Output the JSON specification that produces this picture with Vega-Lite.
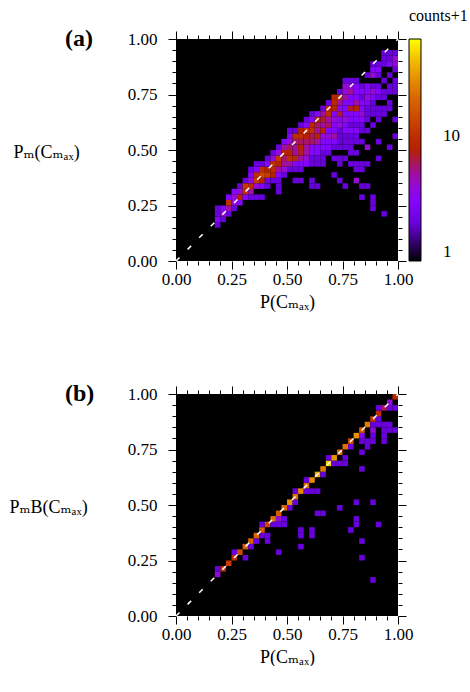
{
"$schema": "https://vega.github.io/schema/vega-lite/v6.json",
"background": "white",
"padding": {"left": 9, "top": 8, "right": 0, "bottom": 0},
"bounds": "flush",
"spacing": 133,
"config": {
  "font": "Liberation Serif, Times New Roman, DejaVu Serif, serif",
  "view": {"fill": "black", "stroke": null},
  "axis": {"domain": false, "grid": false, "labelFont": "Liberation Serif, Times New Roman, DejaVu Serif, serif", "labelFontSize": 17, "labelColor": "black", "tickColor": "black", "tickWidth": 1, "titleFont": "Liberation Serif, Times New Roman, DejaVu Serif, serif", "titleFontSize": 18, "titleFontWeight": "normal", "titleColor": "black"},
  "legend": {"padding": 0, "labelFont": "Liberation Serif, Times New Roman, DejaVu Serif, serif", "labelFontSize": 17, "labelColor": "black", "titleFont": "Liberation Serif, Times New Roman, DejaVu Serif, serif", "titleFontSize": 16, "titleFontWeight": "normal", "titleColor": "black", "gradientStrokeColor": "black", "gradientStrokeWidth": 1},
  "title": {"font": "Liberation Serif, Times New Roman, DejaVu Serif, serif", "fontSize": 24, "fontWeight": "bold", "color": "black"}
},
"vconcat": [
{
  "width": 222, "height": 222,
  "title": {"text": "(a)", "anchor": "start", "frame": "group", "dx": -111, "dy": 21, "offset": 0},
  "layer": [
    {
      "data": {"values": [
{"x":0.175,"x2":0.2,"y":0.15,"y2":0.175,"v":2},{"x":0.175,"x2":0.2,"y":0.175,"y2":0.2,"v":3},{"x":0.175,"x2":0.2,"y":0.2,"y2":0.225,"v":2},{"x":0.175,"x2":0.2,"y":0.225,"y2":0.25,"v":2},
{"x":0.2,"x2":0.225,"y":0.175,"y2":0.2,"v":2},{"x":0.2,"x2":0.225,"y":0.2,"y2":0.225,"v":4},{"x":0.2,"x2":0.225,"y":0.225,"y2":0.25,"v":3},
{"x":0.225,"x2":0.25,"y":0.2,"y2":0.225,"v":2},{"x":0.225,"x2":0.25,"y":0.225,"y2":0.25,"v":5},{"x":0.225,"x2":0.25,"y":0.25,"y2":0.275,"v":10},{"x":0.225,"x2":0.25,"y":0.275,"y2":0.3,"v":3},
{"x":0.25,"x2":0.275,"y":0.225,"y2":0.25,"v":2},{"x":0.25,"x2":0.275,"y":0.25,"y2":0.275,"v":4},{"x":0.25,"x2":0.275,"y":0.275,"y2":0.3,"v":4},{"x":0.25,"x2":0.275,"y":0.3,"y2":0.325,"v":3},
{"x":0.275,"x2":0.3,"y":0.25,"y2":0.275,"v":3},{"x":0.275,"x2":0.3,"y":0.275,"y2":0.3,"v":8},{"x":0.275,"x2":0.3,"y":0.3,"y2":0.325,"v":4},{"x":0.275,"x2":0.3,"y":0.325,"y2":0.35,"v":2},
{"x":0.3,"x2":0.325,"y":0.275,"y2":0.3,"v":3},{"x":0.3,"x2":0.325,"y":0.3,"y2":0.325,"v":10},{"x":0.3,"x2":0.325,"y":0.325,"y2":0.35,"v":12},{"x":0.3,"x2":0.325,"y":0.35,"y2":0.375,"v":2},
{"x":0.325,"x2":0.35,"y":0.275,"y2":0.3,"v":2},{"x":0.325,"x2":0.35,"y":0.3,"y2":0.325,"v":5},{"x":0.325,"x2":0.35,"y":0.325,"y2":0.35,"v":10},{"x":0.325,"x2":0.35,"y":0.35,"y2":0.375,"v":4},{"x":0.325,"x2":0.35,"y":0.375,"y2":0.4,"v":3},{"x":0.325,"x2":0.35,"y":0.4,"y2":0.425,"v":2},
{"x":0.35,"x2":0.375,"y":0.275,"y2":0.3,"v":2},{"x":0.35,"x2":0.375,"y":0.325,"y2":0.35,"v":4},{"x":0.35,"x2":0.375,"y":0.35,"y2":0.375,"v":12},{"x":0.35,"x2":0.375,"y":0.375,"y2":0.4,"v":10},{"x":0.35,"x2":0.375,"y":0.4,"y2":0.425,"v":3},{"x":0.35,"x2":0.375,"y":0.425,"y2":0.45,"v":2},
{"x":0.375,"x2":0.4,"y":0.275,"y2":0.3,"v":2},{"x":0.375,"x2":0.4,"y":0.325,"y2":0.35,"v":3},{"x":0.375,"x2":0.4,"y":0.35,"y2":0.375,"v":8},{"x":0.375,"x2":0.4,"y":0.375,"y2":0.4,"v":14},{"x":0.375,"x2":0.4,"y":0.4,"y2":0.425,"v":10},{"x":0.375,"x2":0.4,"y":0.425,"y2":0.45,"v":2},
{"x":0.4,"x2":0.425,"y":0.325,"y2":0.35,"v":2},{"x":0.4,"x2":0.425,"y":0.35,"y2":0.375,"v":2},{"x":0.4,"x2":0.425,"y":0.375,"y2":0.4,"v":12},{"x":0.4,"x2":0.425,"y":0.4,"y2":0.425,"v":8},{"x":0.4,"x2":0.425,"y":0.425,"y2":0.45,"v":3},{"x":0.4,"x2":0.425,"y":0.45,"y2":0.475,"v":2},
{"x":0.425,"x2":0.45,"y":0.35,"y2":0.375,"v":2},{"x":0.425,"x2":0.45,"y":0.375,"y2":0.4,"v":8},{"x":0.425,"x2":0.45,"y":0.4,"y2":0.425,"v":10},{"x":0.425,"x2":0.45,"y":0.425,"y2":0.45,"v":10},{"x":0.425,"x2":0.45,"y":0.45,"y2":0.475,"v":4},{"x":0.425,"x2":0.45,"y":0.475,"y2":0.5,"v":2},
{"x":0.45,"x2":0.475,"y":0.3,"y2":0.325,"v":2},{"x":0.45,"x2":0.475,"y":0.325,"y2":0.35,"v":2},{"x":0.45,"x2":0.475,"y":0.35,"y2":0.375,"v":2},{"x":0.45,"x2":0.475,"y":0.375,"y2":0.4,"v":3},{"x":0.45,"x2":0.475,"y":0.4,"y2":0.425,"v":5},{"x":0.45,"x2":0.475,"y":0.425,"y2":0.45,"v":8},{"x":0.45,"x2":0.475,"y":0.45,"y2":0.475,"v":12},{"x":0.45,"x2":0.475,"y":0.475,"y2":0.5,"v":4},{"x":0.45,"x2":0.475,"y":0.5,"y2":0.525,"v":2},
{"x":0.475,"x2":0.5,"y":0.375,"y2":0.4,"v":2},{"x":0.475,"x2":0.5,"y":0.4,"y2":0.425,"v":4},{"x":0.475,"x2":0.5,"y":0.425,"y2":0.45,"v":5},{"x":0.475,"x2":0.5,"y":0.45,"y2":0.475,"v":6},{"x":0.475,"x2":0.5,"y":0.475,"y2":0.5,"v":8},{"x":0.475,"x2":0.5,"y":0.5,"y2":0.525,"v":5},{"x":0.475,"x2":0.5,"y":0.525,"y2":0.55,"v":3},
{"x":0.5,"x2":0.525,"y":0.4,"y2":0.425,"v":2},{"x":0.5,"x2":0.525,"y":0.425,"y2":0.45,"v":5},{"x":0.5,"x2":0.525,"y":0.45,"y2":0.475,"v":10},{"x":0.5,"x2":0.525,"y":0.475,"y2":0.5,"v":8},{"x":0.5,"x2":0.525,"y":0.5,"y2":0.525,"v":6},{"x":0.5,"x2":0.525,"y":0.525,"y2":0.55,"v":4},{"x":0.5,"x2":0.525,"y":0.55,"y2":0.575,"v":3},{"x":0.5,"x2":0.525,"y":0.575,"y2":0.6,"v":2},
{"x":0.525,"x2":0.55,"y":0.35,"y2":0.375,"v":2},{"x":0.525,"x2":0.55,"y":0.4,"y2":0.425,"v":2},{"x":0.525,"x2":0.55,"y":0.425,"y2":0.45,"v":3},{"x":0.525,"x2":0.55,"y":0.45,"y2":0.475,"v":9},{"x":0.525,"x2":0.55,"y":0.475,"y2":0.5,"v":5},{"x":0.525,"x2":0.55,"y":0.5,"y2":0.525,"v":5},{"x":0.525,"x2":0.55,"y":0.525,"y2":0.55,"v":6},{"x":0.525,"x2":0.55,"y":0.55,"y2":0.575,"v":10},{"x":0.525,"x2":0.55,"y":0.575,"y2":0.6,"v":2},
{"x":0.55,"x2":0.575,"y":0.35,"y2":0.375,"v":2},{"x":0.55,"x2":0.575,"y":0.4,"y2":0.425,"v":2},{"x":0.55,"x2":0.575,"y":0.425,"y2":0.45,"v":3},{"x":0.55,"x2":0.575,"y":0.45,"y2":0.475,"v":5},{"x":0.55,"x2":0.575,"y":0.475,"y2":0.5,"v":7},{"x":0.55,"x2":0.575,"y":0.5,"y2":0.525,"v":8},{"x":0.55,"x2":0.575,"y":0.525,"y2":0.55,"v":6},{"x":0.55,"x2":0.575,"y":0.55,"y2":0.575,"v":10},{"x":0.55,"x2":0.575,"y":0.575,"y2":0.6,"v":8},{"x":0.55,"x2":0.575,"y":0.6,"y2":0.625,"v":2},
{"x":0.575,"x2":0.6,"y":0.425,"y2":0.45,"v":3},{"x":0.575,"x2":0.6,"y":0.45,"y2":0.475,"v":4},{"x":0.575,"x2":0.6,"y":0.475,"y2":0.5,"v":5},{"x":0.575,"x2":0.6,"y":0.5,"y2":0.525,"v":5},{"x":0.575,"x2":0.6,"y":0.525,"y2":0.55,"v":6},{"x":0.575,"x2":0.6,"y":0.55,"y2":0.575,"v":8},{"x":0.575,"x2":0.6,"y":0.575,"y2":0.6,"v":10},{"x":0.575,"x2":0.6,"y":0.6,"y2":0.625,"v":3},{"x":0.575,"x2":0.6,"y":0.625,"y2":0.65,"v":2},
{"x":0.6,"x2":0.625,"y":0.325,"y2":0.35,"v":2},{"x":0.6,"x2":0.625,"y":0.35,"y2":0.375,"v":2},{"x":0.6,"x2":0.625,"y":0.425,"y2":0.45,"v":2},{"x":0.6,"x2":0.625,"y":0.45,"y2":0.475,"v":2},{"x":0.6,"x2":0.625,"y":0.475,"y2":0.5,"v":3},{"x":0.6,"x2":0.625,"y":0.5,"y2":0.525,"v":3},{"x":0.6,"x2":0.625,"y":0.525,"y2":0.55,"v":6},{"x":0.6,"x2":0.625,"y":0.55,"y2":0.575,"v":6},{"x":0.6,"x2":0.625,"y":0.575,"y2":0.6,"v":10},{"x":0.6,"x2":0.625,"y":0.6,"y2":0.625,"v":9},{"x":0.6,"x2":0.625,"y":0.625,"y2":0.65,"v":3},{"x":0.6,"x2":0.625,"y":0.65,"y2":0.675,"v":2},
{"x":0.625,"x2":0.65,"y":0.325,"y2":0.35,"v":2},{"x":0.625,"x2":0.65,"y":0.425,"y2":0.45,"v":2},{"x":0.625,"x2":0.65,"y":0.45,"y2":0.475,"v":2},{"x":0.625,"x2":0.65,"y":0.475,"y2":0.5,"v":3},{"x":0.625,"x2":0.65,"y":0.5,"y2":0.525,"v":3},{"x":0.625,"x2":0.65,"y":0.525,"y2":0.55,"v":5},{"x":0.625,"x2":0.65,"y":0.55,"y2":0.575,"v":8},{"x":0.625,"x2":0.65,"y":0.575,"y2":0.6,"v":5},{"x":0.625,"x2":0.65,"y":0.6,"y2":0.625,"v":6},{"x":0.625,"x2":0.65,"y":0.625,"y2":0.65,"v":8},{"x":0.625,"x2":0.65,"y":0.65,"y2":0.675,"v":3},
{"x":0.65,"x2":0.675,"y":0.425,"y2":0.45,"v":2},{"x":0.65,"x2":0.675,"y":0.45,"y2":0.475,"v":2},{"x":0.65,"x2":0.675,"y":0.475,"y2":0.5,"v":2},{"x":0.65,"x2":0.675,"y":0.5,"y2":0.525,"v":3},{"x":0.65,"x2":0.675,"y":0.525,"y2":0.55,"v":3},{"x":0.65,"x2":0.675,"y":0.55,"y2":0.575,"v":4},{"x":0.65,"x2":0.675,"y":0.575,"y2":0.6,"v":8},{"x":0.65,"x2":0.675,"y":0.6,"y2":0.625,"v":5},{"x":0.65,"x2":0.675,"y":0.625,"y2":0.65,"v":7},{"x":0.65,"x2":0.675,"y":0.65,"y2":0.675,"v":5},{"x":0.65,"x2":0.675,"y":0.675,"y2":0.7,"v":2},
{"x":0.675,"x2":0.7,"y":0.475,"y2":0.5,"v":2},{"x":0.675,"x2":0.7,"y":0.5,"y2":0.525,"v":3},{"x":0.675,"x2":0.7,"y":0.525,"y2":0.55,"v":3},{"x":0.675,"x2":0.7,"y":0.55,"y2":0.575,"v":4},{"x":0.675,"x2":0.7,"y":0.575,"y2":0.6,"v":3},{"x":0.675,"x2":0.7,"y":0.6,"y2":0.625,"v":6},{"x":0.675,"x2":0.7,"y":0.625,"y2":0.65,"v":5},{"x":0.675,"x2":0.7,"y":0.65,"y2":0.675,"v":10},{"x":0.675,"x2":0.7,"y":0.675,"y2":0.7,"v":9},{"x":0.675,"x2":0.7,"y":0.7,"y2":0.725,"v":2},
{"x":0.7,"x2":0.725,"y":0.375,"y2":0.4,"v":2},{"x":0.7,"x2":0.725,"y":0.45,"y2":0.475,"v":2},{"x":0.7,"x2":0.725,"y":0.5,"y2":0.525,"v":2},{"x":0.7,"x2":0.725,"y":0.525,"y2":0.55,"v":3},{"x":0.7,"x2":0.725,"y":0.55,"y2":0.575,"v":5},{"x":0.7,"x2":0.725,"y":0.575,"y2":0.6,"v":3},{"x":0.7,"x2":0.725,"y":0.6,"y2":0.625,"v":3},{"x":0.7,"x2":0.725,"y":0.625,"y2":0.65,"v":4},{"x":0.7,"x2":0.725,"y":0.65,"y2":0.675,"v":3},{"x":0.7,"x2":0.725,"y":0.675,"y2":0.7,"v":8},{"x":0.7,"x2":0.725,"y":0.7,"y2":0.725,"v":9},{"x":0.7,"x2":0.725,"y":0.725,"y2":0.75,"v":8},
{"x":0.725,"x2":0.75,"y":0.35,"y2":0.375,"v":2},{"x":0.725,"x2":0.75,"y":0.425,"y2":0.45,"v":2},{"x":0.725,"x2":0.75,"y":0.45,"y2":0.475,"v":2},{"x":0.725,"x2":0.75,"y":0.5,"y2":0.525,"v":2},{"x":0.725,"x2":0.75,"y":0.525,"y2":0.55,"v":2},{"x":0.725,"x2":0.75,"y":0.55,"y2":0.575,"v":2},{"x":0.725,"x2":0.75,"y":0.575,"y2":0.6,"v":2},{"x":0.725,"x2":0.75,"y":0.6,"y2":0.625,"v":4},{"x":0.725,"x2":0.75,"y":0.625,"y2":0.65,"v":3},{"x":0.725,"x2":0.75,"y":0.65,"y2":0.675,"v":7},{"x":0.725,"x2":0.75,"y":0.675,"y2":0.7,"v":3},{"x":0.725,"x2":0.75,"y":0.7,"y2":0.725,"v":5},{"x":0.725,"x2":0.75,"y":0.725,"y2":0.75,"v":10},{"x":0.725,"x2":0.75,"y":0.75,"y2":0.775,"v":2},
{"x":0.75,"x2":0.775,"y":0.325,"y2":0.35,"v":2},{"x":0.75,"x2":0.775,"y":0.45,"y2":0.475,"v":2},{"x":0.75,"x2":0.775,"y":0.5,"y2":0.525,"v":2},{"x":0.75,"x2":0.775,"y":0.525,"y2":0.55,"v":2},{"x":0.75,"x2":0.775,"y":0.55,"y2":0.575,"v":2},{"x":0.75,"x2":0.775,"y":0.575,"y2":0.6,"v":3},{"x":0.75,"x2":0.775,"y":0.6,"y2":0.625,"v":3},{"x":0.75,"x2":0.775,"y":0.625,"y2":0.65,"v":4},{"x":0.75,"x2":0.775,"y":0.65,"y2":0.675,"v":3},{"x":0.75,"x2":0.775,"y":0.675,"y2":0.7,"v":3},{"x":0.75,"x2":0.775,"y":0.7,"y2":0.725,"v":3},{"x":0.75,"x2":0.775,"y":0.725,"y2":0.75,"v":5},{"x":0.75,"x2":0.775,"y":0.75,"y2":0.775,"v":4},{"x":0.75,"x2":0.775,"y":0.775,"y2":0.8,"v":4},{"x":0.75,"x2":0.775,"y":0.8,"y2":0.825,"v":2},
{"x":0.775,"x2":0.8,"y":0.425,"y2":0.45,"v":2},{"x":0.775,"x2":0.8,"y":0.475,"y2":0.5,"v":2},{"x":0.775,"x2":0.8,"y":0.5,"y2":0.525,"v":2},{"x":0.775,"x2":0.8,"y":0.525,"y2":0.55,"v":2},{"x":0.775,"x2":0.8,"y":0.55,"y2":0.575,"v":2},{"x":0.775,"x2":0.8,"y":0.575,"y2":0.6,"v":3},{"x":0.775,"x2":0.8,"y":0.6,"y2":0.625,"v":2},{"x":0.775,"x2":0.8,"y":0.625,"y2":0.65,"v":3},{"x":0.775,"x2":0.8,"y":0.65,"y2":0.675,"v":3},{"x":0.775,"x2":0.8,"y":0.675,"y2":0.7,"v":7},{"x":0.775,"x2":0.8,"y":0.7,"y2":0.725,"v":3},{"x":0.775,"x2":0.8,"y":0.725,"y2":0.75,"v":3},{"x":0.775,"x2":0.8,"y":0.75,"y2":0.775,"v":5},{"x":0.775,"x2":0.8,"y":0.775,"y2":0.8,"v":4},{"x":0.775,"x2":0.8,"y":0.8,"y2":0.825,"v":2},
{"x":0.8,"x2":0.825,"y":0.35,"y2":0.375,"v":4},{"x":0.8,"x2":0.825,"y":0.4,"y2":0.425,"v":2},{"x":0.8,"x2":0.825,"y":0.425,"y2":0.45,"v":2},{"x":0.8,"x2":0.825,"y":0.475,"y2":0.5,"v":2},{"x":0.8,"x2":0.825,"y":0.525,"y2":0.55,"v":2},{"x":0.8,"x2":0.825,"y":0.55,"y2":0.575,"v":2},{"x":0.8,"x2":0.825,"y":0.575,"y2":0.6,"v":3},{"x":0.8,"x2":0.825,"y":0.6,"y2":0.625,"v":2},{"x":0.8,"x2":0.825,"y":0.625,"y2":0.65,"v":3},{"x":0.8,"x2":0.825,"y":0.65,"y2":0.675,"v":3},{"x":0.8,"x2":0.825,"y":0.675,"y2":0.7,"v":8},{"x":0.8,"x2":0.825,"y":0.7,"y2":0.725,"v":5},{"x":0.8,"x2":0.825,"y":0.725,"y2":0.75,"v":3},{"x":0.8,"x2":0.825,"y":0.75,"y2":0.775,"v":3},{"x":0.8,"x2":0.825,"y":0.775,"y2":0.8,"v":3},{"x":0.8,"x2":0.825,"y":0.8,"y2":0.825,"v":2},
{"x":0.825,"x2":0.85,"y":0.275,"y2":0.3,"v":2},{"x":0.825,"x2":0.85,"y":0.325,"y2":0.35,"v":2},{"x":0.825,"x2":0.85,"y":0.4,"y2":0.425,"v":2},{"x":0.825,"x2":0.85,"y":0.425,"y2":0.45,"v":2},{"x":0.825,"x2":0.85,"y":0.525,"y2":0.55,"v":2},{"x":0.825,"x2":0.85,"y":0.575,"y2":0.6,"v":2},{"x":0.825,"x2":0.85,"y":0.6,"y2":0.625,"v":2},{"x":0.825,"x2":0.85,"y":0.625,"y2":0.65,"v":3},{"x":0.825,"x2":0.85,"y":0.65,"y2":0.675,"v":4},{"x":0.825,"x2":0.85,"y":0.675,"y2":0.7,"v":3},{"x":0.825,"x2":0.85,"y":0.7,"y2":0.725,"v":3},{"x":0.825,"x2":0.85,"y":0.725,"y2":0.75,"v":2},{"x":0.825,"x2":0.85,"y":0.75,"y2":0.775,"v":3},{"x":0.825,"x2":0.85,"y":0.775,"y2":0.8,"v":2},
{"x":0.85,"x2":0.875,"y":0.325,"y2":0.35,"v":2},{"x":0.85,"x2":0.875,"y":0.425,"y2":0.45,"v":2},{"x":0.85,"x2":0.875,"y":0.5,"y2":0.525,"v":4},{"x":0.85,"x2":0.875,"y":0.575,"y2":0.6,"v":2},{"x":0.85,"x2":0.875,"y":0.625,"y2":0.65,"v":2},{"x":0.85,"x2":0.875,"y":0.65,"y2":0.675,"v":2},{"x":0.85,"x2":0.875,"y":0.675,"y2":0.7,"v":2},{"x":0.85,"x2":0.875,"y":0.7,"y2":0.725,"v":3},{"x":0.85,"x2":0.875,"y":0.725,"y2":0.75,"v":4},{"x":0.85,"x2":0.875,"y":0.75,"y2":0.775,"v":3},{"x":0.85,"x2":0.875,"y":0.775,"y2":0.8,"v":3},{"x":0.85,"x2":0.875,"y":0.825,"y2":0.85,"v":2},
{"x":0.875,"x2":0.9,"y":0.225,"y2":0.25,"v":2},{"x":0.875,"x2":0.9,"y":0.25,"y2":0.275,"v":2},{"x":0.875,"x2":0.9,"y":0.275,"y2":0.3,"v":2},{"x":0.875,"x2":0.9,"y":0.6,"y2":0.625,"v":2},{"x":0.875,"x2":0.9,"y":0.65,"y2":0.675,"v":2},{"x":0.875,"x2":0.9,"y":0.675,"y2":0.7,"v":2},{"x":0.875,"x2":0.9,"y":0.7,"y2":0.725,"v":2},{"x":0.875,"x2":0.9,"y":0.725,"y2":0.75,"v":3},{"x":0.875,"x2":0.9,"y":0.75,"y2":0.775,"v":4},{"x":0.875,"x2":0.9,"y":0.775,"y2":0.8,"v":2},{"x":0.875,"x2":0.9,"y":0.825,"y2":0.85,"v":4},{"x":0.875,"x2":0.9,"y":0.85,"y2":0.875,"v":3},{"x":0.875,"x2":0.9,"y":0.875,"y2":0.9,"v":2},
{"x":0.9,"x2":0.925,"y":0.45,"y2":0.475,"v":2},{"x":0.9,"x2":0.925,"y":0.525,"y2":0.55,"v":2},{"x":0.9,"x2":0.925,"y":0.625,"y2":0.65,"v":2},{"x":0.9,"x2":0.925,"y":0.65,"y2":0.675,"v":2},{"x":0.9,"x2":0.925,"y":0.675,"y2":0.7,"v":2},{"x":0.9,"x2":0.925,"y":0.725,"y2":0.75,"v":2},{"x":0.9,"x2":0.925,"y":0.75,"y2":0.775,"v":3},{"x":0.9,"x2":0.925,"y":0.775,"y2":0.8,"v":2},{"x":0.9,"x2":0.925,"y":0.825,"y2":0.85,"v":2},{"x":0.9,"x2":0.925,"y":0.85,"y2":0.875,"v":3},{"x":0.9,"x2":0.925,"y":0.875,"y2":0.9,"v":2},
{"x":0.925,"x2":0.95,"y":0.2,"y2":0.225,"v":2},{"x":0.925,"x2":0.95,"y":0.65,"y2":0.675,"v":2},{"x":0.925,"x2":0.95,"y":0.675,"y2":0.7,"v":2},{"x":0.925,"x2":0.95,"y":0.725,"y2":0.75,"v":2},{"x":0.925,"x2":0.95,"y":0.75,"y2":0.775,"v":2},{"x":0.925,"x2":0.95,"y":0.8,"y2":0.825,"v":2},{"x":0.925,"x2":0.95,"y":0.875,"y2":0.9,"v":2},{"x":0.925,"x2":0.95,"y":0.9,"y2":0.925,"v":2},{"x":0.925,"x2":0.95,"y":0.925,"y2":0.95,"v":2},
{"x":0.95,"x2":0.975,"y":0.5,"y2":0.525,"v":2},{"x":0.95,"x2":0.975,"y":0.675,"y2":0.7,"v":2},{"x":0.95,"x2":0.975,"y":0.7,"y2":0.725,"v":2},{"x":0.95,"x2":0.975,"y":0.75,"y2":0.775,"v":2},{"x":0.95,"x2":0.975,"y":0.775,"y2":0.8,"v":2},{"x":0.95,"x2":0.975,"y":0.825,"y2":0.85,"v":2},{"x":0.95,"x2":0.975,"y":0.875,"y2":0.9,"v":3},{"x":0.95,"x2":0.975,"y":0.9,"y2":0.925,"v":2},{"x":0.95,"x2":0.975,"y":0.925,"y2":0.95,"v":2},
{"x":0.975,"x2":1,"y":0.55,"y2":0.575,"v":2},{"x":0.975,"x2":1,"y":0.625,"y2":0.65,"v":2},{"x":0.975,"x2":1,"y":0.75,"y2":0.775,"v":2},{"x":0.975,"x2":1,"y":0.775,"y2":0.8,"v":2},{"x":0.975,"x2":1,"y":0.8,"y2":0.825,"v":2},{"x":0.975,"x2":1,"y":0.85,"y2":0.875,"v":2},{"x":0.975,"x2":1,"y":0.875,"y2":0.9,"v":4},{"x":0.975,"x2":1,"y":0.9,"y2":0.925,"v":4},{"x":0.975,"x2":1,"y":0.925,"y2":0.95,"v":2}
      ]},
      "mark": {"type": "rect"},
      "encoding": {
        "x": {"field": "x", "type": "quantitative", "scale": {"domain": [0, 1], "nice": false, "zero": false},
          "axis": {"orient": "bottom", "values": [0,0.05,0.1,0.15,0.2,0.25,0.3,0.35,0.4,0.45,0.5,0.55,0.6,0.65,0.7,0.75,0.8,0.85,0.9,0.95,1], "labelExpr": "abs(datum.value*4-round(datum.value*4))<0.001 ? format(datum.value, '.2f') : ''", "labelOverlap": false, "labelFlush": false, "tickSize": {"condition": {"test": "abs(datum.value*4-round(datum.value*4))<0.001", "value": 8}, "value": 4}, "labelPadding": 2, "title": "P(Cₘₐₓ)", "titleY": 46, "titleBaseline": "alphabetic"}},
        "x2": {"field": "x2"},
        "y": {"field": "y", "type": "quantitative", "scale": {"domain": [0, 1], "nice": false, "zero": false},
          "axis": {"orient": "left", "values": [0,0.05,0.1,0.15,0.2,0.25,0.3,0.35,0.4,0.45,0.5,0.55,0.6,0.65,0.7,0.75,0.8,0.85,0.9,0.95,1], "labelExpr": "abs(datum.value*4-round(datum.value*4))<0.001 ? format(datum.value, '.2f') : ''", "labelOverlap": false, "labelFlush": false, "tickSize": {"condition": {"test": "abs(datum.value*4-round(datum.value*4))<0.001", "value": 8}, "value": 4}, "labelPadding": 11, "title": "Pₘ(Cₘₐₓ)", "titleAngle": 0, "titleAlign": "left", "titleBaseline": "alphabetic", "titleX": -163, "titleY": 118}},
        "y2": {"field": "y2"},
        "color": {"field": "v", "type": "quantitative",
          "scale": {"type": "log", "domain": [1,1.227,1.506,1.848,2.268,2.783,3.415,4.192,5.144,6.313,7.746,11.67,17.57,26.46,39.84,60], "range": ["#000000","#39004f","#510096","#6301ce","#7202f3","#8004ff","#8c07f3","#970bce","#a11096","#ab174f","#b42000","#c63700","#d55700","#e48300","#f2ba00","#ffff00"], "interpolate": "rgb"},
          "legend": {"title": "counts+1", "orient": "none", "legendX": 233, "legendY": -31, "direction": "vertical", "gradientLength": 222, "gradientThickness": 12, "values": [1, 10], "labelOffset": 22, "titlePadding": 15}}
      }
    },
    {
      "data": {"values": [{"x": 0, "y": 0, "x2": 1, "y2": 1}]},
      "mark": {"type": "rule", "color": "white", "strokeDash": [5, 11.4], "strokeWidth": 1.5},
      "encoding": {
        "x": {"field": "x", "type": "quantitative", "scale": {"domain": [0, 1], "nice": false, "zero": false},
          "axis": {"orient": "top", "values": [0,0.05,0.1,0.15,0.2,0.25,0.3,0.35,0.4,0.45,0.5,0.55,0.6,0.65,0.7,0.75,0.8,0.85,0.9,0.95,1], "labels": false, "tickSize": {"condition": {"test": "abs(datum.value*4-round(datum.value*4))<0.001", "value": 8}, "value": 4}, "title": null}},
        "x2": {"field": "x2"},
        "y": {"field": "y", "type": "quantitative", "scale": {"domain": [0, 1], "nice": false, "zero": false},
          "axis": {"orient": "right", "values": [0,0.05,0.1,0.15,0.2,0.25,0.3,0.35,0.4,0.45,0.5,0.55,0.6,0.65,0.7,0.75,0.8,0.85,0.9,0.95,1], "labels": false, "tickSize": {"condition": {"test": "abs(datum.value*4-round(datum.value*4))<0.001", "value": 8}, "value": 4}, "title": null}},
        "y2": {"field": "y2"}
      }
    }
  ],
  "resolve": {"axis": {"x": "independent", "y": "independent"}}
},
{
  "width": 222, "height": 222,
  "title": {"text": "(b)", "anchor": "start", "frame": "group", "dx": -111, "dy": 21, "offset": 0},
  "layer": [
    {
      "data": {"values": [
{"x":0.175,"x2":0.2,"y":0.175,"y2":0.2,"v":4},{"x":0.175,"x2":0.2,"y":0.2,"y2":0.225,"v":2},
{"x":0.2,"x2":0.225,"y":0.2,"y2":0.225,"v":10},
{"x":0.225,"x2":0.25,"y":0.225,"y2":0.25,"v":12},
{"x":0.25,"x2":0.275,"y":0.25,"y2":0.275,"v":10},{"x":0.25,"x2":0.275,"y":0.275,"y2":0.3,"v":2},
{"x":0.275,"x2":0.3,"y":0.275,"y2":0.3,"v":15},
{"x":0.3,"x2":0.325,"y":0.25,"y2":0.275,"v":2},{"x":0.3,"x2":0.325,"y":0.3,"y2":0.325,"v":18},
{"x":0.325,"x2":0.35,"y":0.3,"y2":0.325,"v":2},{"x":0.325,"x2":0.35,"y":0.325,"y2":0.35,"v":20},
{"x":0.35,"x2":0.375,"y":0.325,"y2":0.35,"v":2},{"x":0.35,"x2":0.375,"y":0.35,"y2":0.375,"v":20},
{"x":0.375,"x2":0.4,"y":0.35,"y2":0.375,"v":2},{"x":0.375,"x2":0.4,"y":0.375,"y2":0.4,"v":18},{"x":0.375,"x2":0.4,"y":0.4,"y2":0.425,"v":2},
{"x":0.4,"x2":0.425,"y":0.325,"y2":0.35,"v":2},{"x":0.4,"x2":0.425,"y":0.35,"y2":0.375,"v":2},{"x":0.4,"x2":0.425,"y":0.4,"y2":0.425,"v":14},
{"x":0.425,"x2":0.45,"y":0.4,"y2":0.425,"v":2},{"x":0.425,"x2":0.45,"y":0.425,"y2":0.45,"v":22},
{"x":0.45,"x2":0.475,"y":0.275,"y2":0.3,"v":2},{"x":0.45,"x2":0.475,"y":0.4,"y2":0.425,"v":2},{"x":0.45,"x2":0.475,"y":0.425,"y2":0.45,"v":4},{"x":0.45,"x2":0.475,"y":0.45,"y2":0.475,"v":18},
{"x":0.475,"x2":0.5,"y":0.4,"y2":0.425,"v":2},{"x":0.475,"x2":0.5,"y":0.425,"y2":0.45,"v":2},{"x":0.475,"x2":0.5,"y":0.475,"y2":0.5,"v":20},
{"x":0.5,"x2":0.525,"y":0.475,"y2":0.5,"v":2},{"x":0.5,"x2":0.525,"y":0.5,"y2":0.525,"v":30},
{"x":0.525,"x2":0.55,"y":0.5,"y2":0.525,"v":2},{"x":0.525,"x2":0.55,"y":0.525,"y2":0.55,"v":22},{"x":0.525,"x2":0.55,"y":0.55,"y2":0.575,"v":2},
{"x":0.55,"x2":0.575,"y":0.3,"y2":0.325,"v":2},{"x":0.55,"x2":0.575,"y":0.35,"y2":0.375,"v":2},{"x":0.55,"x2":0.575,"y":0.375,"y2":0.4,"v":2},{"x":0.55,"x2":0.575,"y":0.55,"y2":0.575,"v":28},
{"x":0.575,"x2":0.6,"y":0.55,"y2":0.575,"v":2},{"x":0.575,"x2":0.6,"y":0.575,"y2":0.6,"v":22},{"x":0.575,"x2":0.6,"y":0.6,"y2":0.625,"v":2},
{"x":0.6,"x2":0.625,"y":0.35,"y2":0.375,"v":2},{"x":0.6,"x2":0.625,"y":0.375,"y2":0.4,"v":2},{"x":0.6,"x2":0.625,"y":0.55,"y2":0.575,"v":2},{"x":0.6,"x2":0.625,"y":0.6,"y2":0.625,"v":28},
{"x":0.625,"x2":0.65,"y":0.45,"y2":0.475,"v":2},{"x":0.625,"x2":0.65,"y":0.55,"y2":0.575,"v":2},{"x":0.625,"x2":0.65,"y":0.625,"y2":0.65,"v":35},
{"x":0.65,"x2":0.675,"y":0.45,"y2":0.475,"v":2},{"x":0.65,"x2":0.675,"y":0.625,"y2":0.65,"v":2},{"x":0.65,"x2":0.675,"y":0.65,"y2":0.675,"v":25},
{"x":0.675,"x2":0.7,"y":0.675,"y2":0.7,"v":45},{"x":0.675,"x2":0.7,"y":0.7,"y2":0.725,"v":2},
{"x":0.7,"x2":0.725,"y":0.675,"y2":0.7,"v":2},{"x":0.7,"x2":0.725,"y":0.7,"y2":0.725,"v":30},
{"x":0.725,"x2":0.75,"y":0.475,"y2":0.5,"v":2},{"x":0.725,"x2":0.75,"y":0.675,"y2":0.7,"v":2},{"x":0.725,"x2":0.75,"y":0.725,"y2":0.75,"v":20},
{"x":0.75,"x2":0.775,"y":0.675,"y2":0.7,"v":2},{"x":0.75,"x2":0.775,"y":0.7,"y2":0.725,"v":2},{"x":0.75,"x2":0.775,"y":0.75,"y2":0.775,"v":22},
{"x":0.775,"x2":0.8,"y":0.375,"y2":0.4,"v":2},{"x":0.775,"x2":0.8,"y":0.75,"y2":0.775,"v":2},{"x":0.775,"x2":0.8,"y":0.775,"y2":0.8,"v":16},
{"x":0.8,"x2":0.825,"y":0.4,"y2":0.425,"v":2},{"x":0.8,"x2":0.825,"y":0.425,"y2":0.45,"v":2},{"x":0.8,"x2":0.825,"y":0.5,"y2":0.525,"v":2},{"x":0.8,"x2":0.825,"y":0.8,"y2":0.825,"v":30},
{"x":0.825,"x2":0.85,"y":0.25,"y2":0.275,"v":2},{"x":0.825,"x2":0.85,"y":0.325,"y2":0.35,"v":2},{"x":0.825,"x2":0.85,"y":0.65,"y2":0.675,"v":2},{"x":0.825,"x2":0.85,"y":0.725,"y2":0.75,"v":2},{"x":0.825,"x2":0.85,"y":0.775,"y2":0.8,"v":2},{"x":0.825,"x2":0.85,"y":0.8,"y2":0.825,"v":3},{"x":0.825,"x2":0.85,"y":0.825,"y2":0.85,"v":18},
{"x":0.85,"x2":0.875,"y":0.75,"y2":0.775,"v":2},{"x":0.85,"x2":0.875,"y":0.775,"y2":0.8,"v":2},{"x":0.85,"x2":0.875,"y":0.85,"y2":0.875,"v":25},
{"x":0.875,"x2":0.9,"y":0.15,"y2":0.175,"v":2},{"x":0.875,"x2":0.9,"y":0.5,"y2":0.525,"v":2},{"x":0.875,"x2":0.9,"y":0.775,"y2":0.8,"v":2},{"x":0.875,"x2":0.9,"y":0.8,"y2":0.825,"v":2},{"x":0.875,"x2":0.9,"y":0.825,"y2":0.85,"v":4},{"x":0.875,"x2":0.9,"y":0.85,"y2":0.875,"v":2},{"x":0.875,"x2":0.9,"y":0.875,"y2":0.9,"v":12},
{"x":0.9,"x2":0.925,"y":0.4,"y2":0.425,"v":2},{"x":0.9,"x2":0.925,"y":0.85,"y2":0.875,"v":2},{"x":0.9,"x2":0.925,"y":0.875,"y2":0.9,"v":2},{"x":0.9,"x2":0.925,"y":0.9,"y2":0.925,"v":10},{"x":0.9,"x2":0.925,"y":0.925,"y2":0.95,"v":2},
{"x":0.925,"x2":0.95,"y":0.775,"y2":0.8,"v":2},{"x":0.925,"x2":0.95,"y":0.8,"y2":0.825,"v":2},{"x":0.925,"x2":0.95,"y":0.825,"y2":0.85,"v":2},{"x":0.925,"x2":0.95,"y":0.85,"y2":0.875,"v":2},{"x":0.925,"x2":0.95,"y":0.925,"y2":0.95,"v":6},
{"x":0.95,"x2":0.975,"y":0.825,"y2":0.85,"v":2},{"x":0.95,"x2":0.975,"y":0.85,"y2":0.875,"v":2},{"x":0.95,"x2":0.975,"y":0.925,"y2":0.95,"v":2},{"x":0.95,"x2":0.975,"y":0.95,"y2":0.975,"v":4},
{"x":0.975,"x2":1,"y":0.825,"y2":0.85,"v":2},{"x":0.975,"x2":1,"y":0.925,"y2":0.95,"v":2},{"x":0.975,"x2":1,"y":0.975,"y2":1,"v":9}
      ]},
      "mark": {"type": "rect"},
      "encoding": {
        "x": {"field": "x", "type": "quantitative", "scale": {"domain": [0, 1], "nice": false, "zero": false},
          "axis": {"orient": "bottom", "values": [0,0.05,0.1,0.15,0.2,0.25,0.3,0.35,0.4,0.45,0.5,0.55,0.6,0.65,0.7,0.75,0.8,0.85,0.9,0.95,1], "labelExpr": "abs(datum.value*4-round(datum.value*4))<0.001 ? format(datum.value, '.2f') : ''", "labelOverlap": false, "labelFlush": false, "tickSize": {"condition": {"test": "abs(datum.value*4-round(datum.value*4))<0.001", "value": 8}, "value": 4}, "labelPadding": 2, "title": "P(Cₘₐₓ)", "titleY": 46, "titleBaseline": "alphabetic"}},
        "x2": {"field": "x2"},
        "y": {"field": "y", "type": "quantitative", "scale": {"domain": [0, 1], "nice": false, "zero": false},
          "axis": {"orient": "left", "values": [0,0.05,0.1,0.15,0.2,0.25,0.3,0.35,0.4,0.45,0.5,0.55,0.6,0.65,0.7,0.75,0.8,0.85,0.9,0.95,1], "labelExpr": "abs(datum.value*4-round(datum.value*4))<0.001 ? format(datum.value, '.2f') : ''", "labelOverlap": false, "labelFlush": false, "tickSize": {"condition": {"test": "abs(datum.value*4-round(datum.value*4))<0.001", "value": 8}, "value": 4}, "labelPadding": 11, "title": "PₘB(Cₘₐₓ)", "titleAngle": 0, "titleAlign": "left", "titleBaseline": "alphabetic", "titleX": -167, "titleY": 118}},
        "y2": {"field": "y2"},
        "color": {"field": "v", "type": "quantitative",
          "scale": {"type": "log", "domain": [1,1.227,1.506,1.848,2.268,2.783,3.415,4.192,5.144,6.313,7.746,11.67,17.57,26.46,39.84,60], "range": ["#000000","#39004f","#510096","#6301ce","#7202f3","#8004ff","#8c07f3","#970bce","#a11096","#ab174f","#b42000","#c63700","#d55700","#e48300","#f2ba00","#ffff00"], "interpolate": "rgb"},
          "legend": {"title": "counts+1", "orient": "none", "legendX": 233, "legendY": -31, "direction": "vertical", "gradientLength": 222, "gradientThickness": 12, "values": [1, 10], "labelOffset": 22, "titlePadding": 15}}
      }
    },
    {
      "data": {"values": [{"x": 0, "y": 0, "x2": 1, "y2": 1}]},
      "mark": {"type": "rule", "color": "white", "strokeDash": [5, 11.4], "strokeWidth": 1.5},
      "encoding": {
        "x": {"field": "x", "type": "quantitative", "scale": {"domain": [0, 1], "nice": false, "zero": false},
          "axis": {"orient": "top", "values": [0,0.05,0.1,0.15,0.2,0.25,0.3,0.35,0.4,0.45,0.5,0.55,0.6,0.65,0.7,0.75,0.8,0.85,0.9,0.95,1], "labels": false, "tickSize": {"condition": {"test": "abs(datum.value*4-round(datum.value*4))<0.001", "value": 8}, "value": 4}, "title": null}},
        "x2": {"field": "x2"},
        "y": {"field": "y", "type": "quantitative", "scale": {"domain": [0, 1], "nice": false, "zero": false},
          "axis": {"orient": "right", "values": [0,0.05,0.1,0.15,0.2,0.25,0.3,0.35,0.4,0.45,0.5,0.55,0.6,0.65,0.7,0.75,0.8,0.85,0.9,0.95,1], "labels": false, "tickSize": {"condition": {"test": "abs(datum.value*4-round(datum.value*4))<0.001", "value": 8}, "value": 4}, "title": null}},
        "y2": {"field": "y2"}
      }
    }
  ],
  "resolve": {"axis": {"x": "independent", "y": "independent"}}
}
]
}
